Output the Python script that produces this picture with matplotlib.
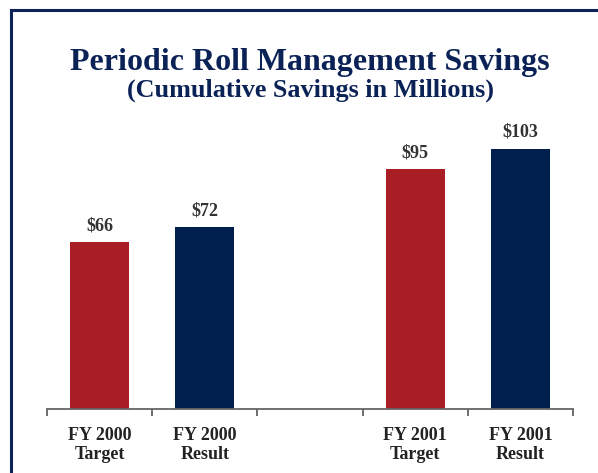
import matplotlib.pyplot as plt
from matplotlib.lines import Line2D

labels = ['FY 2000\nTarget', 'FY 2000\nResult', 'FY 2001\nTarget', 'FY 2001\nResult']
values = [66, 72, 95, 103]
positions = [0, 1, 3, 4]
colors = ['#A81E24', '#001F4E', '#A81E24', '#001F4E']

navy = '#0B2256'
plt.rcParams['font.family'] = ['Liberation Serif', 'DejaVu Serif']

fig = plt.figure(figsize=(5.98, 4.73), dpi=100)
ax = fig.add_axes([47/598, 1 - 409/473, 526/598, 303/473])

ax.bar(positions, values, width=0.56, color=colors)
for x, v in zip(positions, values):
    ax.text(x, v + 4.8, '$' + str(v), ha='center', va='baseline',
            fontsize=13, fontweight='bold', color='#333333')

ax.set_xlim(-0.5, 4.5)
ax.set_ylim(0, 120)
ax.set_xticks(positions)
ax.set_xticklabels(labels, fontsize=13, fontweight='bold', color='#222222', linespacing=1.12)
ax.set_xticks([-0.5, 0.5, 1.5, 2.5, 3.5, 4.5], minor=True)
ax.tick_params(axis='x', which='major', length=0, pad=13)
ax.tick_params(axis='x', which='minor', length=5, width=1.2, color='#555555', direction='out')
ax.set_yticks([])
for s in ['top', 'right', 'left']:
    ax.spines[s].set_visible(False)
ax.spines['bottom'].set_color('#666666')
ax.spines['bottom'].set_linewidth(1.3)

fig.text(0.5184, 1 - 70/473, 'Periodic Roll Management Savings', ha='center', va='baseline',
         fontsize=23, fontweight='bold', color=navy)
fig.text(0.5184, 1 - 97/473, '(Cumulative Savings in Millions)', ha='center', va='baseline',
         fontsize=18.8, fontweight='bold', color=navy)

# frame border (top and left edges)
fig.add_artist(Line2D([11/598, 11/598], [0, 1 - 10/473], color=navy, lw=2.2))
fig.add_artist(Line2D([11/598, 1], [1 - 10/473, 1 - 10/473], color=navy, lw=2.2))

fig.savefig('out.png', dpi=100)
